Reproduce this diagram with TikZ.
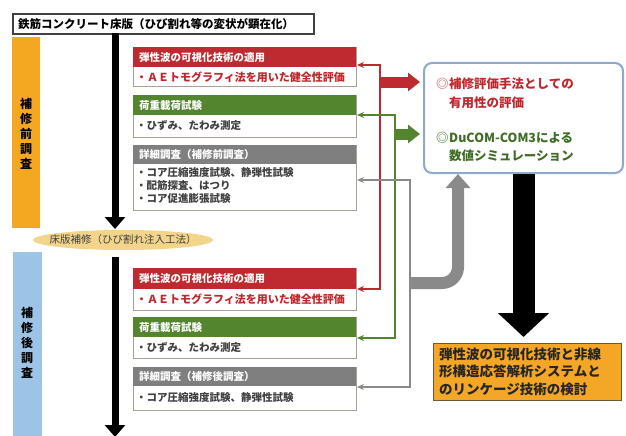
\documentclass[tikz,border=0pt]{standalone}
\usepackage{fontspec}
\newfontfamily\jp{Noto Sans CJK JP}
\usetikzlibrary{arrows.meta,shapes.geometric,calc}
\definecolor{hred}{HTML}{BE2A2F}
\definecolor{hgreen}{HTML}{53852F}
\definecolor{hgray}{HTML}{7F7F7F}
\definecolor{bord}{HTML}{A8A296}
\definecolor{tred}{HTML}{C0282D}
\definecolor{obar}{HTML}{F4A822}
\definecolor{bbar}{HTML}{9DC3E6}
\definecolor{ellc}{HTML}{F2D48A}
\definecolor{evb}{HTML}{8EA9CC}
\definecolor{resf}{HTML}{F4A626}
\definecolor{resb}{HTML}{6B5A3A}
\definecolor{tgray}{HTML}{404040}
\definecolor{cgray}{HTML}{8A8A8A}
\definecolor{dgreen}{HTML}{3E6E25}
\begin{document}
\begin{tikzpicture}[x=1pt,y=-1pt,
  boxbody/.style={draw=bord, line width=0.8pt, fill=white, anchor=north west, minimum width=223pt, inner sep=0pt},
  hdr/.style={fill=#1, text=white, anchor=north west, text width=211pt, inner xsep=6pt, inner ysep=0pt, minimum height=20pt, align=left, font=\jp\bfseries\fontsize{10.5}{13}\selectfont},
  btxt/.style={anchor=west, align=left, inner sep=0pt, font=\jp\bfseries\fontsize{10.5}{13}\selectfont},
  vtxt/.style={align=center, inner sep=0pt, font=\jp\bfseries\fontsize{12}{15}\selectfont},
  conn/.style={line width=1.6pt, {Stealth[length=7pt,width=6pt]}-{Stealth[length=7pt,width=6pt]}},
  fatarrow/.style={line width=11pt, -{Triangle[width=18pt,length=12pt]}},
  mainarrow/.style={line width=7pt, -{Triangle[width=20pt,length=12pt]}},
  evtxt/.style={anchor=west, inner sep=0pt, font=\jp\bfseries\fontsize{12.5}{16}\selectfont}
]
\useasboundingbox (0,0) rectangle (626,436);
\fill[white] (0,0) rectangle (626,436);

% side bars
\fill[obar] (12,37) rectangle (40,228);
\fill[bbar] (13,252) rectangle (42,436);
\node[vtxt] (pre) at (26,134) {補\\修\\前\\調\\査};
\node[vtxt] (post) at (27,343) {補\\修\\後\\調\\査};

% title
\node[draw=tgray, line width=2pt, fill=white, anchor=north west, text width=291pt, inner xsep=5pt, minimum height=20pt, align=left, font=\jp\bfseries\fontsize{11.5}{14}\selectfont] (title) at (12,13) {鉄筋コンクリート床版（ひび割れ等の変状が顕在化）};

% repair ellipse
\node[ellipse, fill=ellc, minimum width=180pt, minimum height=20pt, inner sep=0pt] (rep) at (123,240) {};
\node[inner sep=0pt, text=tgray, font=\jp\fontsize{10.5}{13}\selectfont] (rept) at (rep.center) {床版補修（ひび割れ注入工法）};

% main arrows
\coordinate (m1a) at (115,33);
\coordinate (m1b) at (115,229);
\coordinate (m2a) at (115,257);
\coordinate (m2b) at (115,437);
\draw[mainarrow] (m1a) -- (m1b);
\draw[mainarrow] (m2a) -- (m2b);

% upper boxes
\node[boxbody, minimum height=39pt] (r1) at (133,47) {};
\node[hdr=hred] (r1h) at (133,47) {弾性波の可視化技術の適用};
\node[btxt, text=tred, font=\jp\bfseries\fontsize{11}{13}\selectfont] (r1t) at (136,77) {・ＡＥトモグラフィ法を用いた健全性評価};

\node[boxbody, minimum height=42pt] (g1) at (133,95) {};
\node[hdr=hgreen] (g1h) at (133,95) {荷重載荷試験};
\node[btxt, text=tgray] (g1t) at (136,126) {・ひずみ、たわみ測定};

\node[boxbody, minimum height=65pt] (k1) at (133,145) {};
\node[hdr=hgray, minimum height=19pt] (k1h) at (133,145) {詳細調査（補修前調査）};
\node[btxt, text=tgray] (k1t) at (136,186) {・コア圧縮強度試験、静弾性試験\\・配筋探査、はつり\\・コア促進膨張試験};

% lower boxes
\node[boxbody, minimum height=42pt] (r2) at (133,268) {};
\node[hdr=hred, minimum height=21pt] (r2h) at (133,268) {弾性波の可視化技術の適用};
\node[btxt, text=tred, font=\jp\bfseries\fontsize{11}{13}\selectfont] (r2t) at (136,299.5) {・ＡＥトモグラフィ法を用いた健全性評価};

\node[boxbody, minimum height=41pt] (g2) at (133,317) {};
\node[hdr=hgreen] (g2h) at (133,317) {荷重載荷試験};
\node[btxt, text=tgray] (g2t) at (136,347.5) {・ひずみ、たわみ測定};

\node[boxbody, minimum height=43pt] (k2) at (133,367) {};
\node[hdr=hgray, minimum height=19pt] (k2h) at (133,367) {詳細調査（補修後調査）};
\node[btxt, text=tgray] (k2t) at (136,398) {・コア圧縮強度試験、静弾性試験};

% evaluation box
\node[draw=evb, line width=2pt, rounded corners=8pt, fill=white, minimum width=199pt, minimum height=110pt, anchor=north west] (eval) at (423,62) {};
\node[evtxt, text=tred!70] (e1m) at (436,84) {◎};
\node[evtxt, text=tred] (e1a) at (449,84) {補修評価手法としての};
\node[evtxt, text=tred] (e1b) at (449,103) {有用性の評価};
\node[evtxt, text=hgreen!60!gray] (e2m) at (436,138) {◎};
\node[evtxt, text=dgreen] (e2a) at (449,138) {DuCOM-COM3による};
\node[evtxt, text=dgreen] (e2b) at (449,156) {数値シミュレーション};

% result box
\node[fill=resf, draw=resb, line width=1pt, anchor=north west, minimum width=188pt, minimum height=57pt] (result) at (433,343) {};
\node[anchor=west, align=left, inner sep=0pt, text=black!85, font=\jp\bfseries\fontsize{13.5}{17.5}\selectfont] (rest) at (439,371.5) {弾性波の可視化技術と非線\\形構造応答解析システムと\\のリンケージ技術の検討};

% thin connectors
\coordinate (r1p) at (357,65);
\coordinate (rtop) at (380,65);
\coordinate (rbot) at (380,289);
\coordinate (r2p) at (357,289);
\draw[conn, hred] (r1p) -- (rtop) -- (rbot) -- (r2p);

\coordinate (g1p) at (357,115);
\coordinate (gtop) at (395,115);
\coordinate (gbot) at (395,338);
\coordinate (g2p) at (357,338);
\draw[conn, hgreen] (g1p) -- (gtop) -- (gbot) -- (g2p);

\coordinate (k1p) at (357,180);
\coordinate (ktop) at (410,180);
\coordinate (kbot) at (410,387);
\coordinate (k2p) at (357,387);
\draw[conn, cgray] (k1p) -- (ktop) -- (kbot) -- (k2p);

% fat arrows
\coordinate (rmid) at (380,82);
\draw[fatarrow, hred] (rmid) -- ($(rmid -| eval.west)+(-3,0)$);
\coordinate (gmid) at (395,134);
\draw[fatarrow, hgreen] (gmid) -- ($(gmid -| eval.west)+(-3,0)$);
\coordinate (kmid) at (410,283);
\coordinate (kcorner) at (458,283);
\draw[line width=12pt, cgray, rounded corners=16pt, -{Triangle[width=24pt,length=14pt]}] (kmid) -- (kcorner) -- (kcorner |- eval.south);

\coordinate (bend) at ($(eval.south |- result.north)+(0,-6)$);
\draw[line width=22pt, black, -{Triangle[width=50pt,length=24pt]}] (eval.south) -- (bend);
\end{tikzpicture}
\end{document}
